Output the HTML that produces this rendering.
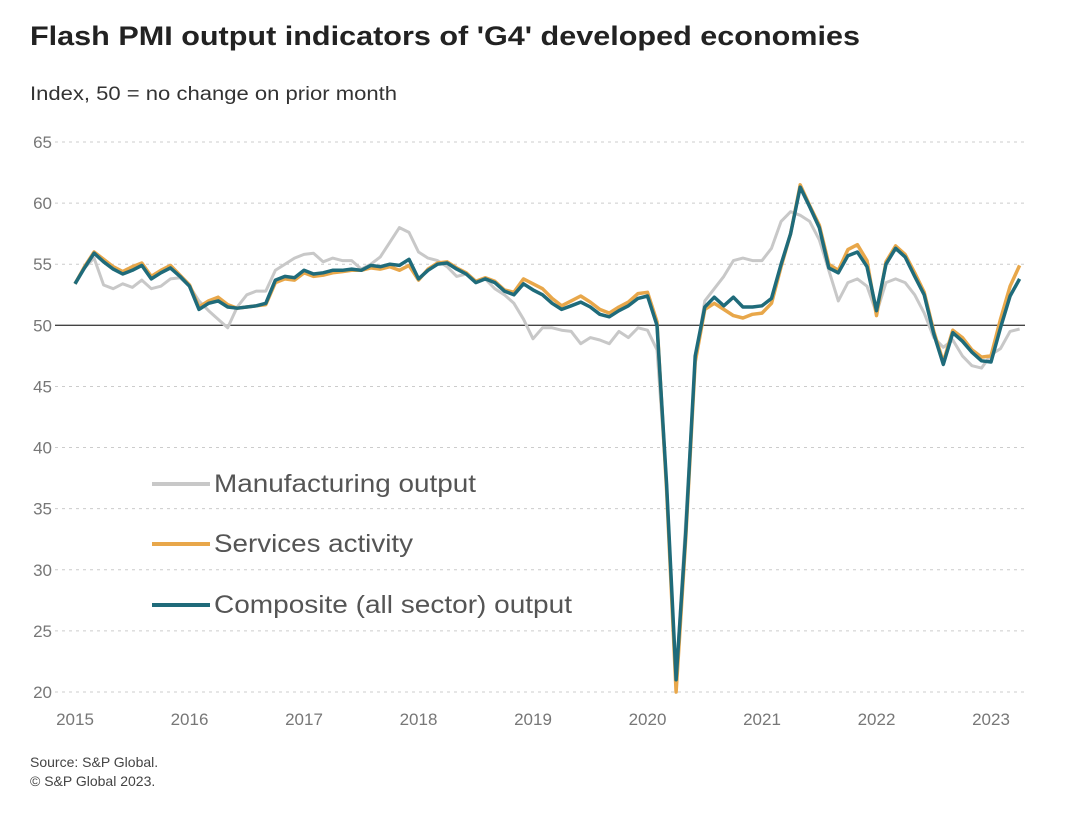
<!DOCTYPE html>
<html><head><meta charset="utf-8">
<style>
body{margin:0;background:#fff;font-family:"Liberation Sans",sans-serif;}
svg{display:block}
</style></head>
<body>
<svg width="1070" height="814" viewBox="0 0 1070 814">
<text x="30" y="45" font-size="27" font-weight="bold" fill="#222" textLength="830" lengthAdjust="spacingAndGlyphs">Flash PMI output indicators of 'G4' developed economies</text>
<text x="30" y="100" font-size="19" fill="#333" textLength="367" lengthAdjust="spacingAndGlyphs">Index, 50 = no change on prior month</text>
<g id="grid"></g>
<g id="series"></g>
<g>
<line x1="152" y1="484" x2="210" y2="484" stroke="#c8c8c8" stroke-width="4"/>
<text x="214" y="492" font-size="25" fill="#555" textLength="262" lengthAdjust="spacingAndGlyphs">Manufacturing output</text>
<line x1="152" y1="544" x2="210" y2="544" stroke="#e8a74a" stroke-width="4"/>
<text x="214" y="552" font-size="25" fill="#555" textLength="199" lengthAdjust="spacingAndGlyphs">Services activity</text>
<line x1="152" y1="605" x2="210" y2="605" stroke="#1f6b7a" stroke-width="4"/>
<text x="214" y="613" font-size="25" fill="#555" textLength="358" lengthAdjust="spacingAndGlyphs">Composite (all sector) output</text>
</g>
<text x="30" y="767" font-size="14" fill="#444">Source: S&amp;P Global.</text>
<text x="30" y="786" font-size="14" fill="#444">© S&amp;P Global 2023.</text>
</svg>
<script>
const yTicks=[20,25,30,35,40,45,50,55,60,65];
const xYears=[2015,2016,2017,2018,2019,2020,2021,2022,2023];
const composite=[53.4,54.7,55.9,55.2,54.6,54.2,54.5,54.9,53.8,54.3,54.7,54.0,
53.2,51.3,51.8,52.0,51.5,51.4,51.5,51.6,51.8,53.7,54.0,53.9,
54.5,54.2,54.3,54.5,54.5,54.6,54.5,54.9,54.8,55.0,54.9,55.4,
53.8,54.5,55.0,55.1,54.6,54.2,53.5,53.8,53.5,52.8,52.5,53.4,
52.9,52.5,51.8,51.3,51.6,51.9,51.5,50.9,50.7,51.2,51.6,52.2,
52.4,50.0,37.0,21.0,33.0,47.5,51.5,52.3,51.6,52.3,51.5,51.5,
51.6,52.2,55.0,57.5,61.3,59.7,58.0,54.7,54.3,55.7,56.0,54.8,
51.2,55.0,56.3,55.6,54.0,52.5,49.3,46.8,49.4,48.7,47.8,47.1,
47.0,49.8,52.4,53.8];
const services=[53.4,54.8,56.0,55.4,54.8,54.4,54.8,55.1,54.0,54.5,54.9,54.1,
53.3,51.5,52.0,52.3,51.7,51.4,51.5,51.6,51.7,53.5,53.8,53.7,
54.3,54.0,54.1,54.3,54.4,54.5,54.5,54.7,54.6,54.8,54.5,54.9,
53.7,54.6,55.1,55.2,54.7,54.3,53.6,53.9,53.6,52.9,52.7,53.8,
53.4,53.0,52.2,51.6,52.0,52.4,51.9,51.3,51.0,51.5,51.9,52.6,
52.7,50.3,36.5,20.0,32.5,47.0,51.3,51.8,51.3,50.8,50.6,50.9,
51.0,51.8,54.8,57.5,61.5,59.8,58.2,55.0,54.5,56.2,56.6,55.3,
50.8,55.2,56.5,55.8,54.3,52.7,49.5,47.0,49.6,49.0,48.0,47.4,
47.5,50.5,53.2,54.9];
const manufacturing=[53.4,54.7,55.5,53.3,53.0,53.4,53.1,53.7,53.0,53.2,53.8,53.9,
53.2,52.0,51.2,50.5,49.8,51.5,52.5,52.8,52.8,54.5,55.0,55.5,
55.8,55.9,55.2,55.5,55.3,55.3,54.6,55.0,55.6,56.8,58.0,57.6,
56.0,55.5,55.3,54.8,54.0,54.2,53.6,53.8,53.0,52.5,51.8,50.5,
48.9,49.8,49.8,49.6,49.5,48.5,49.0,48.8,48.5,49.5,49.0,49.8,
49.6,48.0,37.0,21.0,34.0,47.0,52.0,53.0,54.0,55.3,55.5,55.3,
55.3,56.3,58.5,59.3,59.0,58.5,57.0,54.5,52.0,53.5,53.8,53.2,
51.0,53.5,53.8,53.5,52.5,51.0,49.0,48.2,48.8,47.5,46.7,46.5,
47.6,48.1,49.5,49.7];
const NS="http://www.w3.org/2000/svg";
function yScale(v){return 142+(65-v)*550/45;}
function xScale(i){return 75+i*114.5/12;}
const grid=document.getElementById('grid');
yTicks.forEach(t=>{
  const l=document.createElementNS(NS,'line');
  
  
  l.setAttribute('x1',55);l.setAttribute('x2',1025);
  l.setAttribute('y1',yScale(t));l.setAttribute('y2',yScale(t));
  if(t===50){l.setAttribute('stroke','#444');l.setAttribute('stroke-width','1.3');}
  else{l.setAttribute('stroke','#ccc');l.setAttribute('stroke-dasharray','3,4');}
  grid.appendChild(l);
  const tx=document.createElementNS(NS,'text');
  
  
  tx.setAttribute('x',52);tx.setAttribute('y',yScale(t)+6);
  tx.setAttribute('text-anchor','end');tx.setAttribute('font-size','17');tx.setAttribute('fill','#777');
  tx.textContent=t;grid.appendChild(tx);
});
xYears.forEach((y,k)=>{
  const tx=document.createElementNS(NS,'text');
  
  
  tx.setAttribute('x',xScale(k*12));tx.setAttribute('y',725);
  tx.setAttribute('text-anchor','middle');tx.setAttribute('font-size','17');tx.setAttribute('fill','#777');
  tx.textContent=y;grid.appendChild(tx);
});
const sg=document.getElementById('series');
function draw(arr,color,name,w){
  const p=document.createElementNS(NS,'path');
  
  
  p.setAttribute('d',arr.map((v,i)=>(i?'L':'M')+xScale(i).toFixed(1)+','+yScale(v).toFixed(1)).join(''));
  p.setAttribute('fill','none');p.setAttribute('stroke',color);p.setAttribute('stroke-width',w);
  p.setAttribute('stroke-linejoin','round');
  sg.appendChild(p);
}
draw(manufacturing,'#c8c8c8','manufacturing-line',3);
draw(services,'#e8a74a','services-line',3.5);
draw(composite,'#1f6b7a','composite-line',3.5);
</script>
</body></html>
